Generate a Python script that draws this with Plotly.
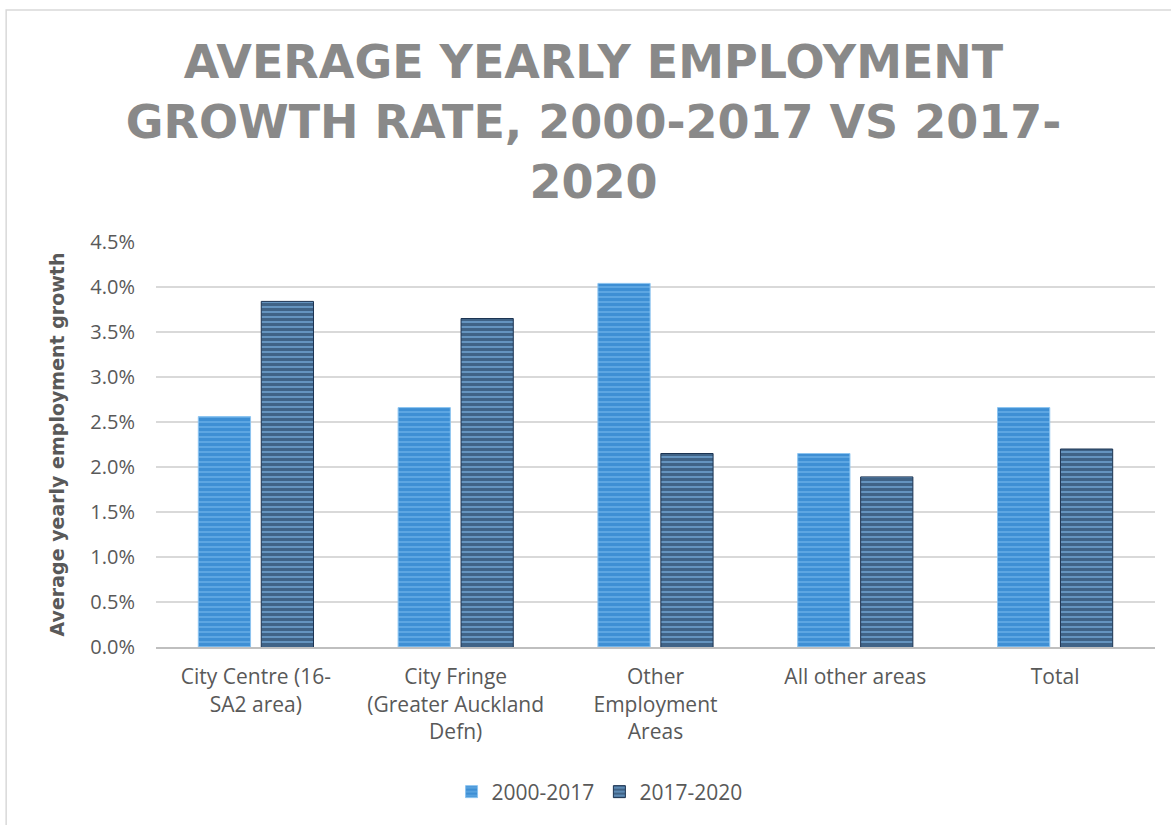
import plotly.graph_objects as go

categories = [
    "City Centre (16-<br>SA2 area)",
    "City Fringe<br>(Greater Auckland<br>Defn)",
    "Other<br>Employment<br>Areas",
    "All other areas",
    "Total",
]
growth_2000_2017 = [0.0256, 0.0266, 0.0404, 0.0215, 0.0266]
growth_2017_2020 = [0.0384, 0.0365, 0.0215, 0.0189, 0.0220]
series_names = ["2000-2017", "2017-2020"]
y_ticks = [0.0, 0.005, 0.01, 0.015, 0.02, 0.025, 0.03, 0.035, 0.04, 0.045]

fig = go.Figure()
fig.add_trace(go.Bar(
    x=categories, y=growth_2000_2017, name=series_names[0],
    marker=dict(
        color="#6fb3ea",
        line=dict(color="#8cc4f0", width=1),
        pattern=dict(shape="-", fgcolor="#0d6cbd", bgcolor="#6fb3ea", size=5, solidity=0.75),
    ),
))
fig.add_trace(go.Bar(
    x=categories, y=growth_2017_2020, name=series_names[1],
    marker=dict(
        color="#7ab0e2",
        line=dict(color="#1c3452", width=1),
        pattern=dict(shape="-", fgcolor="#06162a", bgcolor="#7ab0e2", size=5, solidity=0.75),
    ),
))

fig.update_layout(
    width=1171, height=825,
    margin=dict(l=156, r=16, t=242, b=178),
    paper_bgcolor="white", plot_bgcolor="white",
    barmode="group", bargap=0.37, bargroupgap=0.17,
    title=dict(
        text="AVERAGE YEARLY EMPLOYMENT<br>GROWTH RATE, 2000-2017 VS 2017-<br>2020",
        font=dict(family="DejaVu Sans", size=46, color="#898989", weight="bold"),
        x=0.438, xanchor="center", xref="paper",
        y=0.905, yanchor="top", yref="container",
    ),
    legend=dict(
        orientation="h", x=0.444, xanchor="center", y=-0.358, yanchor="middle",
        font=dict(family="Open Sans, sans-serif", size=21, color="#595959"),
        itemwidth=30, traceorder="normal",
    ),
    shapes=[dict(
        type="rect", xref="paper", yref="paper",
        x0=-0.150, x1=1.03, y0=-0.47, y1=1.573,
        line=dict(color="#d9d9d9", width=1.5), fillcolor="rgba(0,0,0,0)", layer="below",
    )],
)

fig.update_yaxes(
    range=[0, 0.045], tickvals=y_ticks, tickformat=".1%",
    showgrid=True, gridcolor="#d9d9d9", gridwidth=1.5,
    zeroline=False, showline=False,
    tickfont=dict(family="Open Sans, sans-serif", size=20, color="#595959"),
    ticklabelstandoff=20,
    title=dict(text="Average yearly employment growth",
               font=dict(family="DejaVu Sans", size=19, color="#595959", weight="bold"),
               standoff=20),
)
fig.update_xaxes(
    showline=True, linecolor="#bfbfbf", linewidth=2,
    tickfont=dict(family="Open Sans, sans-serif", size=21, color="#595959"),
    ticks="", ticklabelstandoff=10,
)

fig.write_html("out.html")
